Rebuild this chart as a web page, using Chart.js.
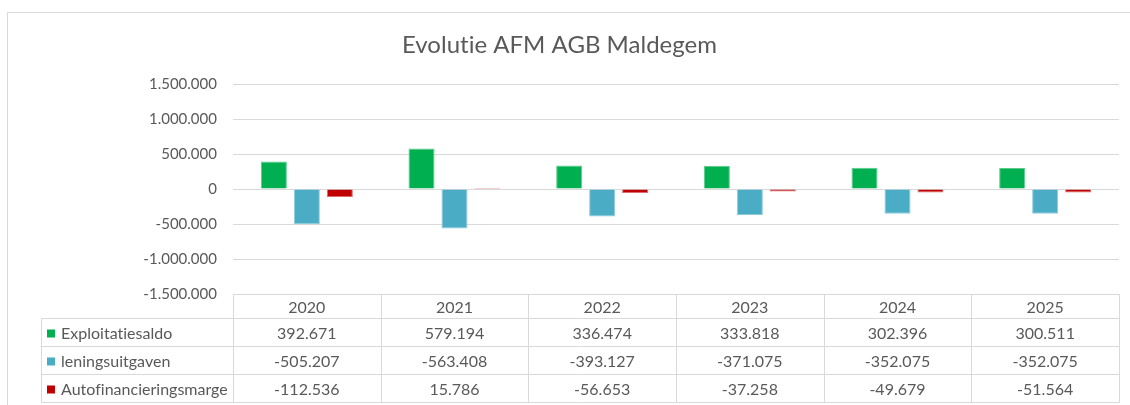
<!DOCTYPE html>
<html>
<head>
<meta charset="utf-8">
<script src="https://cdn.jsdelivr.net/npm/chart.js@4.4.1/dist/chart.umd.min.js"></script>
<style>
  html, body { margin: 0; padding: 0; background: #fff; }
  #wrap { position: relative; width: 1130px; height: 405px; }
</style>
</head>
<body>
<div id="wrap"><canvas id="myChart"></canvas></div>
<script>
const years = ['2020', '2021', '2022', '2023', '2024', '2025'];
const exploitatiesaldo = [392671, 579194, 336474, 333818, 302396, 300511];
const leningsuitgaven = [-505207, -563408, -393127, -371075, -352075, -352075];
const autofinancieringsmarge = [-112536, 15786, -56653, -37258, -49679, -51564];
const yTicks = [-1500000, -1000000, -500000, 0, 500000, 1000000, 1500000];

const textColor = '#595959';
const lineColor = '#D9D9D9';
const fontFamily = 'Lato, "Open Sans", sans-serif';

function fmt(v) {
  const s = String(Math.abs(v)).replace(/\B(?=(\d{3})+(?!\d))/g, '.');
  return (v < 0 ? '-' : '') + s;
}

const seriesList = [
  { label: 'Exploitatiesaldo', data: exploitatiesaldo, color: '#00B050', edge: '#5CCB8C' },
  { label: 'leningsuitgaven', data: leningsuitgaven, color: '#4BACC6', edge: '#8CCADB' },
  { label: 'Autofinancieringsmarge', data: autofinancieringsmarge, color: '#C00000', edge: '#DC6A6A' }
];

// frame + data table below the plot
const tablePlugin = {
  id: 'dataTable',
  beforeDraw(chart) {
    const ctx = chart.ctx;
    // no "ti" ligatures, like the original
    ctx.letterSpacing = '0.01px';
    ctx.textRendering = 'optimizeSpeed';
    ctx.save();
    ctx.strokeStyle = lineColor;
    ctx.lineWidth = 1;
    ctx.strokeRect(7.5, 12.5, 1140, 420);
    ctx.restore();
  },
  afterDraw(chart) {
    const ctx = chart.ctx;
    const area = chart.chartArea;
    const x = chart.scales.x;
    const colW = area.width / years.length;
    const top = Math.round(area.bottom) + 0.5;
    const headH = 24;
    const rowH = 28;
    const leftX = 41.5;
    const rightX = Math.round(area.right) + 0.5;
    const bottom = top + headH + rowH * seriesList.length;

    ctx.save();
    ctx.strokeStyle = lineColor;
    ctx.lineWidth = 1;
    ctx.beginPath();
    ctx.moveTo(Math.round(area.left) + 0.5, top);
    ctx.lineTo(rightX, top);
    for (let r = 0; r <= seriesList.length; r++) {
      const y = top + headH + r * rowH;
      ctx.moveTo(leftX, y);
      ctx.lineTo(rightX, y);
    }
    ctx.moveTo(leftX, top + headH);
    ctx.lineTo(leftX, bottom);
    for (let i = 0; i <= years.length; i++) {
      const vx = Math.round(area.left + i * colW) + 0.5;
      ctx.moveTo(vx, top);
      ctx.lineTo(vx, bottom);
    }
    ctx.stroke();

    ctx.fillStyle = textColor;
    ctx.font = '16px ' + fontFamily;
    ctx.textAlign = 'center';
    ctx.textBaseline = 'middle';
    years.forEach((yr, i) => {
      ctx.fillText(yr, x.getPixelForValue(i), top + headH / 2 + 1);
    });
    seriesList.forEach((s, r) => {
      const cy = top + headH + r * rowH + rowH / 2 + 1;
      ctx.fillStyle = s.color;
      ctx.fillRect(47, cy - 4, 8, 8);
      ctx.fillStyle = textColor;
      ctx.textAlign = 'left';
      ctx.fillText(s.label, 61, cy);
      ctx.textAlign = 'center';
      s.data.forEach((v, i) => {
        ctx.fillText(fmt(v), x.getPixelForValue(i), cy);
      });
    });
    ctx.restore();
  }
};

const data = {
  labels: years,
  datasets: seriesList.map(s => ({
    label: s.label,
    data: s.data,
    backgroundColor: s.color,
    borderColor: s.edge,
    borderWidth: 1,
    categoryPercentage: 0.67,
    barPercentage: 0.79
  }))
};

let myChart = new Chart(
  document.getElementById('myChart'),
  {
    type: 'bar',
    data: data,
    plugins: [tablePlugin],
    options: {
      responsive: true,
      maintainAspectRatio: false,
      animation: false,
      layout: { padding: { left: 0, right: 11, top: 0, bottom: 111 } },
      plugins: {
        legend: false,
        tooltip: { enabled: false },
        title: {
          display: true,
          text: 'Evolutie AFM AGB Maldegem',
          color: textColor,
          font: { family: fontFamily, size: 24, weight: 'normal', lineHeight: 1.2 },
          padding: { top: 31, bottom: 24.2 }
        }
      },
      scales: {
        x: {
          display: false,
          grid: { display: false }
        },
        y: {
          min: -1500000,
          max: 1500000,
          afterBuildTicks: axis => { axis.ticks = yTicks.map(v => ({ value: v })); },
          afterFit: axis => { axis.width = 233; },
          border: { display: false },
          grid: { color: lineColor, lineWidth: 1, drawTicks: false },
          ticks: {
            color: textColor,
            padding: 16,
            font: { family: fontFamily, size: 15 },
            callback: v => fmt(v)
          }
        }
      }
    }
  }
);
</script>
</body>
</html>
